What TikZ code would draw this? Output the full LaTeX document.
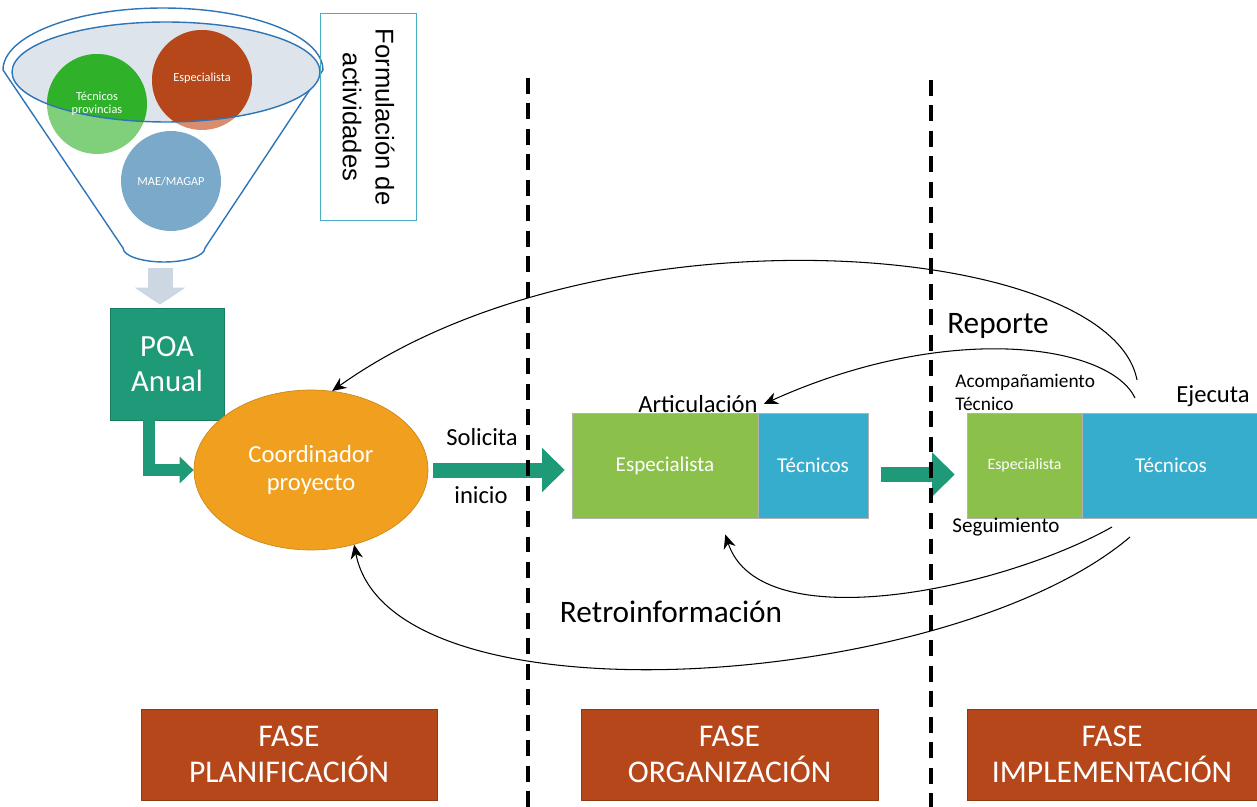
\documentclass[tikz,border=0pt]{standalone}
\usepackage{fontspec}
\setmainfont{Carlito}
\newfontfamily\formfont{Liberation Sans}
\usetikzlibrary{arrows.meta,shapes.geometric}
\definecolor{poagreen}{RGB}{30,154,120}
\definecolor{coordorange}{RGB}{240,160,30}
\definecolor{espgreen}{RGB}{139,192,74}
\definecolor{tecblue}{RGB}{54,173,205}
\definecolor{phasebrown}{RGB}{181,71,26}
\definecolor{funnelblue}{RGB}{46,117,182}
\definecolor{funnelfill}{RGB}{222,228,236}
\definecolor{formblue}{RGB}{75,172,198}
\definecolor{arrowgray}{RGB}{205,215,227}
\definecolor{cgreen}{RGB}{47,177,42}
\definecolor{cgreenlight}{RGB}{128,207,122}
\definecolor{corange}{RGB}{181,71,26}
\definecolor{corangelight}{RGB}{218,141,110}
\definecolor{cblue}{RGB}{122,169,201}
\begin{document}
\begin{tikzpicture}[x=0.02cm,y=-0.02cm]
    \tikzset{box/.style = {draw=black!30, minimum height=2.1cm, text=white, font=\fontsize{12}{14}\selectfont}}
    \tikzset{phase/.style = {fill=phasebrown, draw=phasebrown!80!black, minimum height=1.82cm, align=center, text=white, font=\fontsize{18}{20.4}\selectfont}}
    \tikzset{label/.style = {font=\fontsize{14}{16}\selectfont}}
    \tikzset{bigarrow/.style = {-{Triangle[width=0.86cm,length=0.45cm]}, line width=0.3cm, draw=poagreen}}
    \tikzset{feedback/.style = {-{Stealth[length=8pt,width=7pt]}, line width=0.6pt}}
    \tikzset{phaseline/.style = {line width=2pt, dash pattern=on 9pt off 5.5pt}}
    \tikzset{bubble/.style = {circle, minimum size=2cm, align=center, text=white, font=\fontsize{7}{7.5}\selectfont}}
    \useasboundingbox (0,0) rectangle (1257,807);

    \draw[funnelblue, line width=0.8pt] (123,248) -- (3,70)
        arc[start angle=180, end angle=0, x radius=3.2cm, y radius=1.24cm]
        -- (205,248) arc[start angle=0, end angle=-180, x radius=0.82cm, y radius=0.28cm];
    \fill[funnelfill] (166,72) ellipse [x radius=3.08cm, y radius=1cm];
    \fill[cgreenlight] (97,104) circle [radius=1cm];
    \fill[corangelight] (202,80) circle [radius=1cm];
    \fill[cblue] (171,181) circle [radius=1cm];
    \begin{scope}
        \clip (166,72) ellipse [x radius=3.08cm, y radius=1cm];
        \fill[cgreen] (97,104) circle [radius=1cm];
        \fill[corange] (202,80) circle [radius=1cm];
    \end{scope}
    \draw[funnelblue, line width=0.8pt] (166,72) ellipse [x radius=3.08cm, y radius=1cm];
    \node[bubble] (tecProv) at (97,104) {Técnicos\\provincias};
    \node[bubble] (espFun) at (202,78) {Especialista};
    \node[bubble] (mae) at (171,181) {MAE/MAGAP};

    \node[draw=formblue, rotate=-90, minimum width=4.14cm, minimum height=1.92cm, align=center,
        font=\formfont\fontsize{14.6}{18.7}\selectfont] (form) at (368.5,117) {Formulación de\\actividades};

    \node[fill=poagreen, draw=poagreen!80!black, minimum width=2.28cm, minimum height=2.24cm, align=center,
        text=white, font=\fontsize{17.5}{20}\selectfont] (poa) at (167,364) {POA\\Anual};
    \coordinate (fbot) at (160,268);
    \draw[-{Triangle[width=1cm,length=0.34cm]}, line width=0.5cm, draw=arrowgray, shorten >=0.06cm] (fbot) -- (fbot |- poa.north);

    \node[ellipse, fill=coordorange, draw=coordorange!85!black, minimum width=4.68cm, minimum height=3.2cm,
        align=center, text=white, font=\fontsize{14}{16.4}\selectfont] (coord) at (311,470) {Coordinador\\proyecto};
    \draw[bigarrow, line width=0.24cm, -{Triangle[width=0.52cm,length=0.28cm]}] ([xshift=-0.36cm]poa.south) |- (coord.west);

    \node[box, fill=espgreen, minimum width=3.72cm] (espM) at (665,465.5) {Especialista};
    \node[box, fill=tecblue, minimum width=2.2cm] (tecM) at (813,465.5) {Técnicos};
    \node[box, fill=espgreen, minimum width=2.3cm, font=\fontsize{9}{11}\selectfont] (espR) at (1024.5,465.5) {Especialista};
    \node[box, fill=tecblue, minimum width=3.56cm] (tecR) at (1171,465.5) {Técnicos};

    \draw[bigarrow, shorten <=0.1cm, shorten >=0.14cm] (coord.east) -- (coord.east -| espM.west);
    \draw[bigarrow, shorten <=0.26cm, shorten >=0.24cm] ([yshift=-0.18cm]tecM.east) -- ([yshift=-0.18cm]espR.west);

    \draw[phaseline] (528,78) -- (528,807);
    \draw[phaseline] (931,80) -- (931,807);

    \node[label] (solicita) at (482,437) {Solicita};
    \node[label] (inicio) at (481,495) {inicio};
    \node[label] (artic) at (698,404) {Articulación};
    \node[label, font=\fontsize{17.8}{20}\selectfont] (reporte) at (998,326) {Reporte};
    \node[label, font=\fontsize{17.8}{20}\selectfont] (retro) at (671,612) {Retroinformación};
    \node[label, anchor=west, align=left, inner sep=0pt, font=\fontsize{11}{13}\selectfont] (acomp) at (955,392) {Acompañamiento\\Técnico};
    \node[label] (ejecuta) at (1213,396) {Ejecuta};
    \node[label, font=\fontsize{12}{14}\selectfont] (seguim) at (1006,527) {Seguimiento};

    \coordinate (topA) at (1137,380);
    \coordinate (topB) at (1135,398);
    \coordinate (lowA) at (1112,527);
    \coordinate (lowB) at (1130,537);
    \draw[feedback] (topA) .. controls (1110,240) and (600,200) .. (coord.75);
    \draw[feedback] (topB) .. controls (1110,345) and (950,320) .. (artic.east);
    \draw[feedback, shorten >=0.34cm] (lowA) .. controls (1000,590) and (760,640) .. ([xshift=1.1cm]espM.south);
    \draw[feedback] (lowB) .. controls (950,690) and (390,730) .. (coord.-60);

    \node[phase, minimum width=5.92cm] (fPlan) at (289,754.5) {FASE\\PLANIFICACIÓN};
    \node[phase, minimum width=5.94cm] (fOrg) at (729.5,754.5) {FASE\\ORGANIZACIÓN};
    \node[phase, minimum width=5.8cm] (fImp) at (1112,754.5) {FASE\\IMPLEMENTACIÓN};
\end{tikzpicture}
\end{document}
